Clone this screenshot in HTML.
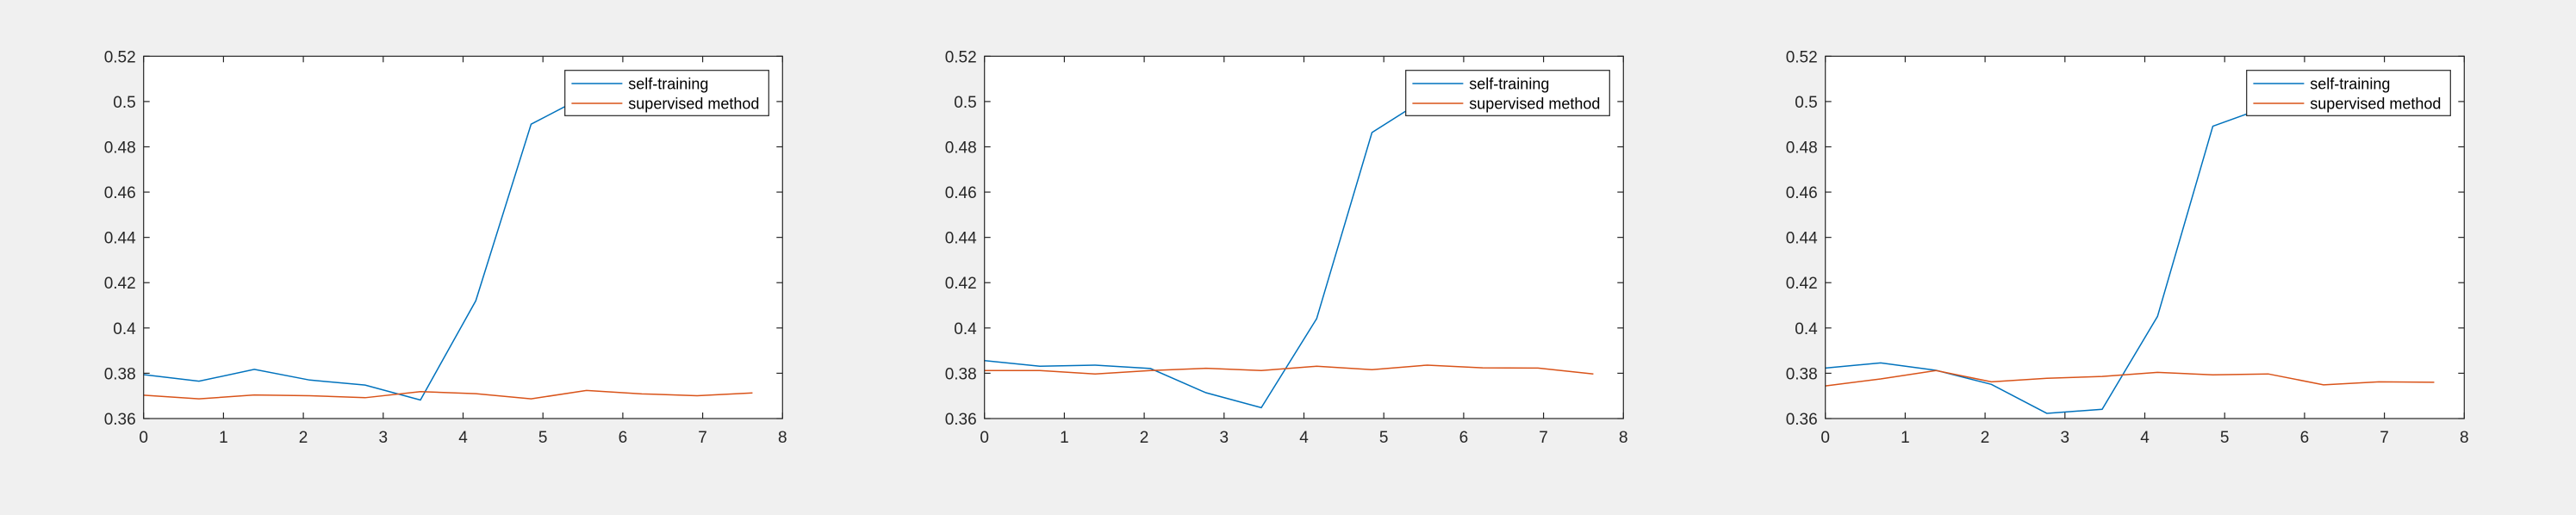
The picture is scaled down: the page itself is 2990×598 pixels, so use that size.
<!DOCTYPE html>
<html><head><meta charset="utf-8"><style>
html,body{margin:0;padding:0;background:#f0f0f0;}
svg{display:block;font-family:"Liberation Sans",Arial,sans-serif;}
</style></head><body>
<svg id="fig" width="2990" height="598" viewBox="0 0 2990 598"></svg>
<script>
const xValues = [0,0.693,1.386,2.079,2.773,3.466,4.159,4.852,5.545,6.238,6.931,7.624];
const selfTraining1 = [0.3794,0.3765,0.3817,0.3770,0.3748,0.3682,0.4120,0.4900,0.5027,0.5045,0.5060,0.5070];
const supervised1 = [0.3703,0.3687,0.3704,0.3701,0.3692,0.3719,0.3710,0.3687,0.3724,0.3709,0.3701,0.3713];
const selfTraining2 = [0.3856,0.3831,0.3836,0.3821,0.3714,0.3648,0.4041,0.4863,0.5018,0.5040,0.5055,0.5065];
const supervised2 = [0.3812,0.3812,0.3797,0.3812,0.3822,0.3812,0.3831,0.3816,0.3836,0.3824,0.3823,0.3797];
const selfTraining3 = [0.3823,0.3846,0.3813,0.3751,0.3623,0.3641,0.4051,0.4891,0.4979,0.5000,0.5020,0.5030];
const supervised3 = [0.3744,0.3775,0.3812,0.3762,0.3778,0.3786,0.3804,0.3793,0.3797,0.3749,0.3762,0.3760];
const xTicks = [0,1,2,3,4,5,6,7,8];
const yTicks = [0.36,0.38,0.4,0.42,0.44,0.46,0.48,0.5,0.52];
const yTickLabels = ["0.36","0.38","0.4","0.42","0.44","0.46","0.48","0.5","0.52"];
const seriesNames = ["self-training","supervised method"];

const NS="http://www.w3.org/2000/svg";
const svg=document.getElementById('fig');
const W=741.6, TOP=65.3, BOT=486, XMIN=0, XMAX=8, YMIN=0.36, YMAX=0.52;
const lefts=[166.7,1142.7,2118.7];
const panels=[[selfTraining1,supervised1],[selfTraining2,supervised2],[selfTraining3,supervised3]];
const colors=["#0072BD","#D95319"];
function mk(tag,attrs,parent){const e=document.createElementNS(NS,tag);for(const k in attrs)e.setAttribute(k,attrs[k]);parent.appendChild(e);return e;}

panels.forEach((series,pi)=>{
  const L=lefts[pi];
  const xs=v=>L+(v-XMIN)/(XMAX-XMIN)*W;
  const ys=v=>BOT-(v-YMIN)/(YMAX-YMIN)*(BOT-TOP);
  const g=mk('g',{},svg);
  
  
  const bg=mk('rect',{x:L,y:TOP,width:W,height:BOT-TOP,fill:'#fff'},g);
  
  
  const clipId='clip'+pi;
  const cp=mk('clipPath',{id:clipId},g);
  mk('rect',{x:L,y:TOP,width:W,height:BOT-TOP},cp);
  series.forEach((vals,si)=>{
    const pts=vals.map((v,i)=>xs(xValues[i]).toFixed(2)+','+ys(v).toFixed(2)).join(' ');
    const pl=mk('polyline',{points:pts,fill:'none',stroke:colors[si],'stroke-width':1.5,'clip-path':'url(#'+clipId+')'},g);
    
    
  });
  // axes box
  const box=mk('rect',{x:L,y:TOP,width:W,height:BOT-TOP,fill:'none',stroke:'#262626','stroke-width':1.2},g);
  
  
  xTicks.forEach(t=>{
    const x=xs(t);
    mk('line',{x1:x,y1:BOT,x2:x,y2:BOT-7,stroke:'#262626','stroke-width':1.2},g);
    mk('line',{x1:x,y1:TOP,x2:x,y2:TOP+7,stroke:'#262626','stroke-width':1.2},g);
    const tx=mk('text',{x:x,y:514,'text-anchor':'middle','font-size':19,fill:'#262626'},g);
    tx.textContent=String(t);
    
    
  });
  yTicks.forEach((t,i)=>{
    const y=ys(t);
    mk('line',{x1:L,y1:y,x2:L+7,y2:y,stroke:'#262626','stroke-width':1.2},g);
    mk('line',{x1:L+W,y1:y,x2:L+W-7,y2:y,stroke:'#262626','stroke-width':1.2},g);
    const ty=mk('text',{x:L-9,y:y+7,'text-anchor':'end','font-size':19,fill:'#262626'},g);
    ty.textContent=yTickLabels[i];
    
    
  });
  // legend
  const lg=mk('g',{},g);
  
  
  const lx=L+489, ly=81.7;
  mk('rect',{x:lx,y:ly,width:236.6,height:52.6,fill:'#fff',stroke:'#262626','stroke-width':1.2},lg);
  seriesNames.forEach((n,si)=>{
    const yy=ly+15.3+si*23;
    const ln=mk('line',{x1:lx+7.7,y1:yy,x2:lx+66.7,y2:yy,stroke:colors[si],'stroke-width':1.5},lg);
    
    
    const t=mk('text',{x:lx+73.6,y:yy+6.5,'font-size':18,fill:'#000'},lg);
    t.textContent=n;
    
    
  });
});
</script>
</body></html>
